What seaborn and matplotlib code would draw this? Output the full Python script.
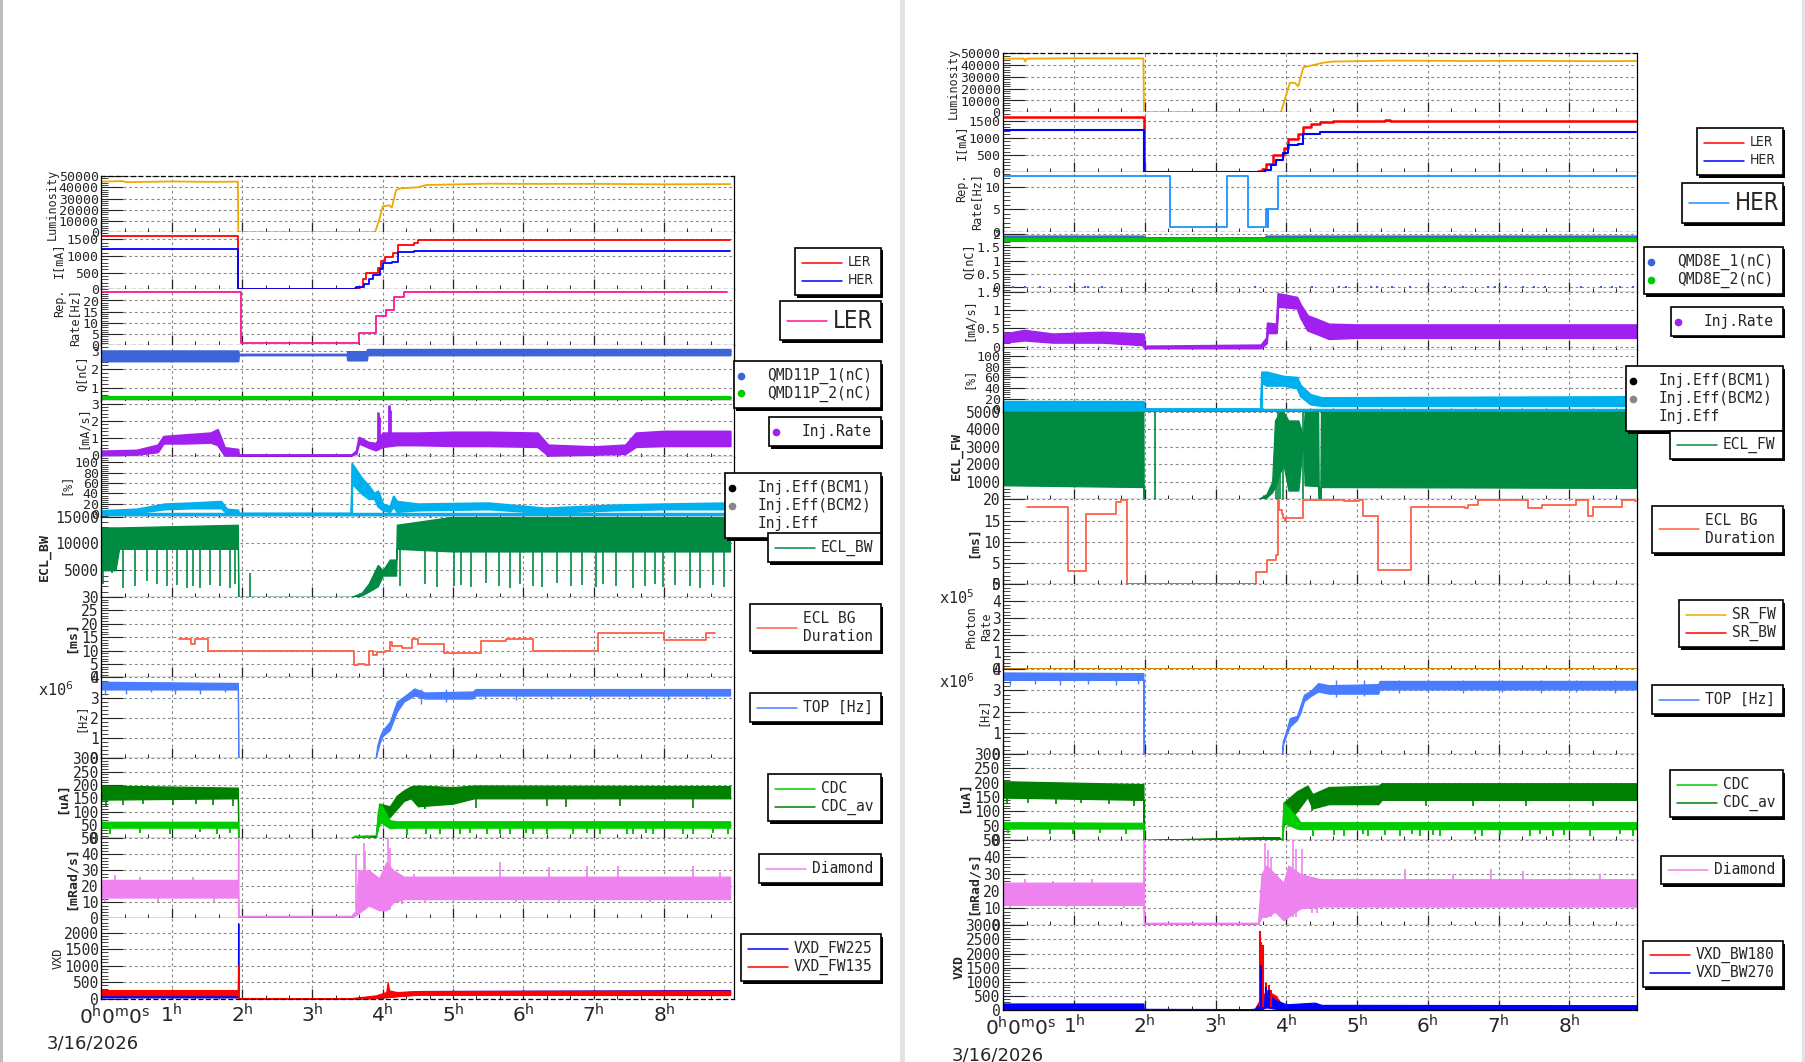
import matplotlib
matplotlib.use("Agg")
import matplotlib.pyplot as plt
from matplotlib.lines import Line2D
from matplotlib.patches import Rectangle
from matplotlib.ticker import AutoMinorLocator, MultipleLocator, FuncFormatter
import seaborn as sns

sns.set_theme(style="white")
MONO = "DejaVu Sans Mono"
SANS = "DejaVu Sans"
plt.rcParams["font.family"] = [MONO, SANS]
plt.rcParams["mathtext.fontset"] = "dejavusans"

W, H = 1806, 1062

# colours
ORANGE = "#eeaa00"
RED = "#ff0000"
BLUE = "#0000ff"
PINK = "#ff1493"
DODGER = "#1e90ff"
QBLUE = "#3d63d6"
QGREEN = "#00cc00"
PURPLE = "#a020f0"
CYAN = "#00b0ee"
ECLG = "#008a42"
TOMATO = "#ff5f45"
TOPB = "#4a7cff"
CDCAV = "#008000"
CDCG = "#00cc00"
VIOLET = "#ee82ee"

# ---------------- left canvas data (LER) ----------------
L_lumi_t = [0, 0.3, 0.35, 1.0, 1.5, 1.94, 1.945, 3.89, 3.95, 4.0, 4.09, 4.13, 4.19, 4.25, 4.5, 4.62, 5.0, 5.5, 6.0, 7.0, 8.0, 8.94]
L_lumi = [45000, 45500, 44500, 45200, 44800, 45000, 0, 0, 11000, 23000, 24000, 22000, 37500, 39000, 40000, 42000, 42500, 43200, 43000, 43000, 42600, 42800]

L_ler_t = [0, 1.945, 3.60, 3.67, 3.72, 3.76, 3.93, 3.98, 4.03, 4.15, 4.22, 4.45, 4.50, 8.94]
L_ler = [1590, 0, 40, 80, 300, 500, 650, 850, 980, 1100, 1330, 1400, 1478, 1478]
L_her_t = [0, 1.945, 3.62, 3.74, 3.80, 3.86, 3.96, 4.0, 4.13, 4.22, 4.45, 8.94]
L_her = [1200, 0, 60, 160, 300, 430, 600, 780, 830, 1120, 1150, 1150]

L_rep_t = [0, 1.98, 3.66, 3.91, 4.05, 4.16, 4.30, 8.89]
L_rep = [23.6, 1.2, 5.3, 13.1, 15.6, 21.4, 23.6, 23.6]

L_q1_t = [0, 1.94, 1.95, 3.49, 3.50, 3.77, 3.78, 8.94]
L_q1_lo = [2.45, 2.45, 2.78, 2.78, 2.5, 2.5, 2.78, 2.78]
L_q1_hi = [3.0, 3.0, 2.82, 2.82, 2.96, 2.96, 3.08, 3.08]
L_q2_t = [0, 8.94]
L_q2 = [0.44, 0.44]

L_inj_t = [0, 0.5, 0.8, 0.88, 1.2, 1.55, 1.65, 1.75, 1.94, 1.95, 3.55, 3.62, 3.66, 3.80, 3.90, 4.0, 4.2, 4.5, 5.0, 5.5, 6.2, 6.35, 7.0, 7.45, 7.6, 8.0, 8.94]
L_inj_lo = [0.02, 0.05, 0.2, 0.7, 0.7, 0.75, 0.6, 0.0, 0.0, 0.0, 0.0, 0.1, 0.7, 0.45, 0.3, 0.5, 0.6, 0.6, 0.55, 0.55, 0.5, 0.0, 0.05, 0.1, 0.5, 0.55, 0.55]
L_inj_hi = [0.25, 0.3, 0.6, 1.1, 1.2, 1.3, 1.5, 0.45, 0.35, 0.02, 0.02, 0.25, 1.05, 0.75, 0.7, 1.3, 1.3, 1.3, 1.35, 1.35, 1.3, 0.6, 0.5, 0.6, 1.3, 1.4, 1.4]
L_inj_spk_t = [3.93, 3.95, 4.09, 4.11]
L_inj_spk_lo = [0.8, 1.0, 1.2, 1.3]
L_inj_spk_hi = [2.5, 2.2, 2.9, 2.6]

L_eff_t = [0, 0.5, 0.9, 1.3, 1.7, 1.78, 1.94, 1.95, 3.55, 3.56, 3.70, 3.80, 3.88, 3.93, 4.0, 4.1, 4.15, 4.2, 4.5, 5.5, 6.3, 7.3, 8.0, 8.94]
L_eff_lo = [2, 3, 10, 12, 12, 2, 2, 0, 0, 60, 40, 30, 30, 15, 8, 5, 15, 5, 8, 10, 3, 8, 10, 10]
L_eff_hi = [7, 10, 20, 22, 25, 10, 8, 2, 2, 98, 70, 55, 40, 45, 20, 15, 35, 25, 20, 22, 12, 18, 20, 22]
L_effline_t = [0, 8.94]
L_effline = [0.5, 0.5]

L_ecl_t = [0, 0.2, 0.25, 1.94, 1.945, 3.55, 3.70, 3.80, 3.93, 4.0, 4.1, 4.19, 4.2, 5.0, 8.94]
L_ecl_lo = [5000, 5000, 9000, 9000, 0, 0, 300, 1000, 2000, 4000, 4000, 4000, 9000, 8500, 8500]
L_ecl_hi = [13000, 13000, 13000, 13500, 0, 0, 800, 2500, 6000, 5000, 7000, 7000, 13500, 15000, 15000]
L_ecl_spk_t = [0.02, 0.15, 0.31, 0.48, 0.65, 0.79, 0.93, 1.07, 1.21, 1.30, 1.40, 1.54, 1.68, 1.83, 1.90, 2.11,
               4.24, 4.60, 4.77, 5.02, 5.12, 5.26, 5.47, 5.66, 5.81, 5.95, 6.14, 6.26, 6.48, 6.68, 6.83,
               7.04, 7.13, 7.32, 7.56, 7.73, 7.87, 7.99, 8.15, 8.37, 8.51, 8.70, 8.86]
L_ecl_spk = [2500, 4400, 1700, 2000, 2900, 2500, 2000, 2300, 1700, 2000, 1700, 2300, 2000, 1700, 2500, 0,
             2000, 2500, 1800, 2000, 2300, 1900, 2600, 2000, 1700, 2400, 2000, 1800, 2700, 2000, 2300,
             1900, 2400, 2000, 1700, 2100, 2500, 1800, 2200, 2000, 1700, 2300, 1800]
L_ecl_spk_top = [9000, 9000, 9000, 9000, 9000, 9000, 9000, 9000, 9000, 9000, 9000, 9000, 9000, 9000, 9000, 4400,
                 9000, 9000, 9000, 9000, 9000, 9000, 9000, 9000, 9000, 9000, 9000, 9000, 9000, 9000, 9000,
                 9000, 9000, 9000, 9000, 9000, 9000, 9000, 9000, 9000, 9000, 9000, 9000]

L_ms_t = [1.10, 1.28, 1.33, 1.51, 3.59, 3.65, 3.75, 3.81, 3.86, 3.92, 4.03, 4.10, 4.13, 4.27, 4.41, 4.50, 4.87, 5.40, 5.76, 6.13, 7.06, 8.0, 8.60, 8.73]
L_ms = [14.3, 12.3, 14.3, 10.0, 4.6, 5.0, 4.5, 9.9, 8.4, 9.5, 9.9, 13.1, 11.7, 10.9, 14.2, 12.4, 9.0, 13.6, 14.2, 9.9, 16.4, 13.8, 16.4, 16.4]

L_top_t = [0, 1.94, 1.945, 3.90, 3.92, 3.96, 4.0, 4.1, 4.2, 4.3, 4.45, 4.6, 5.28, 5.32, 8.94]
L_top_lo = [3.4, 3.4, 0, 0, 0.3, 0.8, 1.1, 1.4, 2.3, 2.8, 3.1, 2.95, 2.95, 3.1, 3.1]
L_top_hi = [3.78, 3.72, 0, 0, 0.6, 1.1, 1.4, 1.8, 2.8, 3.05, 3.45, 3.25, 3.3, 3.42, 3.42]
L_top_spk_t = [0.05, 0.35, 0.7, 1.05, 1.4, 1.75, 4.55, 4.9, 5.45, 5.9, 6.4, 6.95, 7.5, 8.05, 8.6]
L_top_spk = [3.15, 3.2, 3.25, 3.2, 3.2, 3.25, 2.7, 2.8, 2.95, 2.9, 2.95, 2.9, 2.95, 2.9, 2.95]

L_cdcav_t = [0, 1.94, 1.945, 3.55, 3.77, 3.90, 3.95, 4.1, 4.2, 4.3, 4.4, 4.5, 5.0, 5.3, 8.94]
L_cdcav_lo = [145, 150, 0, 0, 3, 3, 60, 80, 110, 140, 150, 120, 130, 150, 150]
L_cdcav_hi = [198, 190, 0, 0, 10, 10, 130, 120, 160, 180, 195, 198, 192, 198, 196]
L_cdcav_spk_t = [0.07, 0.31, 0.59, 1.02, 1.35, 1.59, 1.87, 4.6, 5.33, 6.33, 6.61, 7.37, 8.41]
L_cdcav_spk = [120, 125, 130, 125, 130, 125, 120, 110, 115, 120, 118, 120, 115]
L_cdc_t = [0, 1.94, 1.945, 3.55, 3.60, 3.77, 3.90, 3.93, 3.97, 4.1, 4.2, 8.94]
L_cdc_lo = [40, 40, 0, 0, 3, 3, 0, 40, 60, 38, 40, 40]
L_cdc_hi = [62, 62, 0, 0, 10, 10, 0, 100, 130, 68, 64, 64]
L_cdc_spk_t = [0.12, 0.55, 0.97, 1.40, 1.64, 1.83, 4.34, 4.62, 4.81, 5.10, 5.24, 5.48, 5.67, 5.81, 6.04, 6.14, 6.33,
               6.71, 6.90, 7.09, 7.47, 7.56, 7.75, 7.85, 8.27, 8.41, 8.70, 8.91]
L_cdc_spk = [15, 20, 18, 22, 15, 20, 12, 15, 18, 15, 20, 15, 18, 15, 20, 15, 18,
             15, 20, 15, 18, 15, 20, 15, 18, 15, 20, 15]

L_dia_t = [0, 1.94, 1.945, 1.95, 3.55, 3.62, 3.65, 3.80, 3.95, 4.05, 4.15, 4.3, 5.0, 8.94]
L_dia_lo = [13, 13, 0, 0.5, 0.5, 2, 3, 8, 5, 5, 10, 12, 12, 12]
L_dia_hi = [24, 24, 50, 1.5, 1.5, 5, 30, 30, 25, 35, 30, 26, 26, 26]
L_dia_spk_t = [3.62, 3.73, 3.75, 4.08, 4.11]
L_dia_spk_hi = [40, 47, 42, 50, 44]
L_dia_up_t = [0.19, 0.55, 1.3, 4.45, 5.67, 6.37, 6.90, 7.35, 8.41, 8.8]
L_dia_up = [27, 26, 26, 28, 35, 32, 33, 33, 33, 29]
L_dia_dn_t = [0.05, 0.8, 1.6, 4.28, 4.6, 5.9, 6.5, 7.8]
L_dia_dn = [10, 10.5, 10, 9, 9.5, 10, 10.5, 10]

L_vxdb_t = [0, 1.94, 1.945, 1.95, 3.55, 3.9, 4.1, 4.5, 8.94]
L_vxdb_lo = [40, 40, 0, 0, 0, 20, 60, 130, 140]
L_vxdb_hi = [150, 150, 2280, 20, 15, 60, 160, 230, 260]
L_vxdr_t = [0, 1.94, 1.945, 1.95, 3.55, 3.9, 4.05, 4.07, 4.09, 4.2, 4.5, 8.94]
L_vxdr_lo = [110, 110, 0, 0, 0, 20, 50, 50, 50, 80, 120, 110]
L_vxdr_hi = [260, 260, 1000, 10, 15, 100, 200, 500, 250, 200, 230, 240]

# ---------------- right canvas data (HER) ----------------
R_lumi_t = [0, 0.29, 0.31, 0.33, 1.0, 1.98, 1.99, 3.925, 4.0, 4.05, 4.12, 4.17, 4.24, 4.38, 4.52, 4.66, 5.5, 6.5, 7.5, 8.5, 8.95]
R_lumi = [45500, 45500, 43000, 45500, 45800, 45600, 0, 0, 15000, 25000, 25000, 22000, 38000, 40000, 42000, 43000, 43800, 43500, 43600, 43300, 43500]

R_ler_t = [0, 1.985, 3.60, 3.66, 3.72, 3.81, 3.97, 4.02, 4.16, 4.24, 4.35, 4.48, 4.66, 5.40, 5.46, 8.95]
R_ler = [1610, 0, 30, 100, 250, 495, 700, 980, 1100, 1320, 1400, 1466, 1500, 1520, 1480, 1480]
R_her_t = [0, 1.985, 3.70, 3.78, 3.86, 3.96, 4.02, 4.16, 4.24, 4.48, 8.95]
R_her = [1215, 0, 60, 200, 350, 560, 800, 830, 1100, 1180, 1180]

R_rep_t = [0, 2.356, 3.166, 3.463, 3.709, 3.737, 3.746, 3.878, 8.95]
R_rep = [12.46, 0.97, 12.46, 0.97, 5.0, 0.97, 5.0, 12.46, 12.46]

R_q1_t = [0, 1.98, 1.99, 3.70, 3.71, 8.95]
R_q1_lo = [1.80, 1.80, 1.84, 1.84, 1.80, 1.80]
R_q1_hi = [1.93, 1.93, 1.87, 1.87, 1.93, 1.93]
R_q2_t = [0, 8.95]
R_q2 = [1.775, 1.775]
R_qdot_t = [0.14, 0.31, 0.52, 0.94, 1.155, 1.2, 1.39, 3.56, 4.37, 4.74, 4.85, 5.2, 5.28, 5.49, 5.75,
            6.0, 6.24, 6.5, 6.85, 6.95, 7.11, 7.35, 7.5, 7.65, 8.17, 8.45, 8.6, 8.72, 8.9]
R_qdot = [0.0, 0.01, 0.0, 0.0, 0.01, 0.0, 0.0, 0.01, 0.0, 0.0, 0.01, 0.0, 0.0, 0.01, 0.0,
          0.0, 0.01, 0.0, 0.0, 0.01, 0.0, 0.0, 0.01, 0.0, 0.0, 0.01, 0.0, 0.0, 0.01]

R_inj_t = [0, 0.3, 0.7, 1.4, 1.98, 1.99, 3.64, 3.72, 3.73, 3.86, 3.88, 4.15, 4.2, 4.3, 4.5, 4.6, 5.0, 8.95]
R_inj_lo = [0.12, 0.18, 0.12, 0.12, 0.05, -0.03, -0.03, 0.1, 0.38, 0.38, 1.1, 1.05, 0.8, 0.45, 0.3, 0.22, 0.25, 0.25]
R_inj_hi = [0.35, 0.45, 0.35, 0.4, 0.35, 0.02, 0.05, 0.25, 0.65, 0.62, 1.45, 1.35, 1.15, 0.85, 0.7, 0.62, 0.6, 0.6]

R_eff_t = [0, 1.98, 1.99, 3.64, 3.65, 3.72, 3.96, 4.15, 4.2, 4.34, 4.5, 8.95]
R_eff_lo = [3, 3, 0, 0, 50, 45, 45, 40, 25, 10, 7, 7]
R_eff_hi = [15, 15, 1, 1, 70, 70, 62, 60, 45, 28, 22, 24]
R_effline_t = [0, 8.95]
R_effline = [-1, -1]

R_ecl_t = [0, 1.98, 1.985, 3.60, 3.72, 3.80, 3.84, 3.91, 3.96, 4.03, 4.17, 4.24, 4.26, 4.45, 4.46, 4.48, 4.49, 8.95]
R_ecl_lo = [800, 700, 0, 0, 100, 400, 700, 1500, 2000, 500, 500, 3400, 800, 750, 0, 0, 700, 650]
R_ecl_hi = [5000, 5000, 0, 0, 300, 1000, 4500, 5000, 5000, 4500, 4500, 3600, 5000, 5000, 0, 0, 5000, 5000]
R_ecl_vl_t = [2.144, 3.85, 3.88, 3.91, 3.96, 4.24]
R_ecl_vl_hi = [5000, 4000, 5000, 5000, 5000, 5000]

R_ms_t = [0.34, 0.92, 1.169, 1.60, 1.66, 1.744, 3.567, 3.722, 3.85, 3.878, 3.90, 3.934, 3.958, 3.98, 4.0, 4.24, 4.81, 5.03,
          5.08, 5.29, 5.76, 6.52, 6.57, 6.71, 7.42, 7.62, 8.10, 8.27, 8.33, 8.75, 8.93, 8.95]
R_ms = [18.1, 3.06, 16.46, 19.3, 19.9, 0, 3.0, 5.64, 6.9, 19.9, 17.5, 16.5, 15.5, 14.9, 15.6, 19.9, 19.6, 19.9,
        16.07, 3.36, 18.1, 17.9, 18.6, 19.9, 17.9, 18.6, 19.9, 16.07, 18.1, 19.9, 19.6, 19.6]

R_srfw_t = [0, 8.95]
R_srfw = [0.02, 0.02]
R_srbw_t = [0, 8.95]
R_srbw = [0.0, 0.0]

R_top_t = [0, 1.98, 1.985, 3.94, 3.95, 4.0, 4.05, 4.15, 4.2, 4.25, 4.35, 4.45, 4.6, 5.3, 5.32, 8.95]
R_top_lo = [3.5, 3.5, 0, 0, 0.4, 0.9, 1.3, 1.6, 1.95, 2.5, 2.75, 2.95, 2.85, 2.85, 3.05, 3.05]
R_top_hi = [3.85, 3.82, 0, 0, 0.6, 1.1, 1.7, 1.8, 2.3, 2.8, 3.0, 3.35, 3.25, 3.3, 3.45, 3.45]
R_top_spk_t = [0.1, 0.45, 0.8, 1.2, 1.6, 1.9, 4.7, 5.1, 5.6, 6.0, 6.5, 7.05, 7.6, 8.1, 8.65]
R_top_spk = [3.25, 3.3, 3.25, 3.3, 3.25, 3.3, 2.7, 2.75, 2.9, 2.95, 2.9, 2.95, 2.9, 2.95, 2.9]

R_cdcav_t = [0, 1.98, 1.985, 3.60, 3.90, 3.94, 3.96, 4.15, 4.3, 4.37, 4.6, 5.3, 5.35, 8.95]
R_cdcav_lo = [148, 140, 0, 3, 3, 0, 50, 100, 150, 110, 125, 125, 140, 140]
R_cdcav_hi = [205, 195, 0, 10, 10, 0, 130, 170, 190, 160, 185, 190, 198, 198]
R_cdcav_spk_t = [0.05, 0.35, 0.75, 1.1, 1.5, 1.85, 4.36, 5.98, 6.64, 7.39, 8.34]
R_cdcav_spk = [125, 130, 125, 128, 125, 120, 100, 120, 118, 120, 120]
R_cdc_t = [0, 1.98, 1.985, 3.94, 3.96, 4.15, 4.2, 8.95]
R_cdc_lo = [40, 40, 0, 0, 60, 40, 38, 38]
R_cdc_hi = [62, 60, 0, 0, 130, 80, 62, 62]
R_cdc_spk_t = [0.07, 0.66, 0.99, 1.37, 1.74, 4.38, 4.67, 4.81, 5.09, 5.16, 5.40, 5.61, 5.77, 5.89, 6.08, 6.17,
               6.67, 6.76, 7.02, 7.44, 7.59, 7.77, 7.92, 8.29, 8.72, 8.90]
R_cdc_spk = [25, 22, 20, 25, 22, 15, 18, 15, 20, 15, 18, 15, 20, 15, 18, 15,
             20, 15, 18, 15, 20, 15, 18, 15, 20, 15]

R_dia_t = [0, 1.98, 1.985, 1.99, 3.60, 3.65, 3.72, 3.84, 3.96, 4.03, 4.2, 4.48, 8.95]
R_dia_lo = [12, 12, 0, 0.5, 0.5, 5, 5, 8, 3, 5, 10, 11, 11]
R_dia_hi = [25, 25, 50, 1.5, 1.5, 30, 35, 30, 25, 35, 30, 27, 27]
R_dia_spk_t = [3.70, 3.74, 3.78, 4.10, 4.14]
R_dia_spk_hi = [48, 44, 40, 50, 45]
R_dia_up_t = [0.3, 0.7, 1.25, 4.22, 5.68, 6.36, 6.90, 7.35, 8.43]
R_dia_up = [27, 26, 27, 45, 33, 30, 33, 32, 30]
R_dia_dn_t = [0.1, 0.9, 1.7, 4.36, 4.43, 5.3, 6.2, 7.5]
R_dia_dn = [10, 10.5, 10, 7, 7, 9.5, 10, 10]

R_vxdr_t = [0, 1.98, 1.985, 3.55, 3.60, 3.72, 3.85, 3.95, 8.95]
R_vxdr_lo = [0, 0, 0, 0, 0, 100, 50, 20, 0]
R_vxdr_hi = [30, 30, 10, 20, 250, 700, 500, 150, 60]
R_vxdr_spk_t = [3.635, 3.645, 3.67, 3.72, 3.75, 3.78]
R_vxdr_spk_hi = [2800, 2400, 2300, 950, 900, 700]
R_vxdb_t = [0, 1.98, 1.985, 3.49, 3.56, 3.65, 3.72, 3.85, 4.0, 4.4, 4.5, 8.95]
R_vxdb_lo = [0, 0, 0, 0, 0, 50, 100, 50, 0, 0, 0, 0]
R_vxdb_hi = [230, 230, 40, 30, 50, 300, 600, 350, 200, 260, 180, 170]
R_vxdb_spk_t = [3.645, 3.72, 3.76]
R_vxdb_spk_hi = [1600, 830, 700]

HOURS = [0, 1, 2, 3, 4, 5, 6, 7, 8]
HOUR_LABELS = ["", r"$1^{\mathrm{h}}$", r"$2^{\mathrm{h}}$", r"$3^{\mathrm{h}}$", r"$4^{\mathrm{h}}$",
               r"$5^{\mathrm{h}}$", r"$6^{\mathrm{h}}$", r"$7^{\mathrm{h}}$", r"$8^{\mathrm{h}}$"]

# ---------------- layout (pixels) ----------------
L_X0, L_X1, L_XMAX = 101.5, 734.3, 9.0
L_ROWS = [176, 232.3, 289.3, 345.3, 401.3, 457.3, 516.7, 597, 677.3, 758.3, 838.3, 918.3, 998.7]
R_X0, R_X1, R_XMAX = 1003.3, 1636.7, 8.953
R_ROWS = [53.3, 112.3, 172.3, 231.7, 291.7, 350, 411.7, 499.3, 584.3, 669.3, 754, 840, 925.3, 1010]

L_SPECS = [
    ((0, 50000), list(range(0, 50001, 10000)), True),
    ((0, 1710), [0, 500, 1000, 1500], True),
    ((0, 25), [0, 5, 10, 15, 20], True),
    ((0.25, 3.3), [1, 2, 3], False),
    ((-0.12, 3.13), [0, 1, 2, 3], False),
    ((-5, 110), [0, 20, 40, 60, 80, 100], False),
    ((0, 15000), [5000, 10000, 15000], False),
    ((0, 30), list(range(0, 31, 5)), False),
    ((0, 4), [0, 1, 2, 3, 4], False),
    ((0, 300), list(range(0, 301, 50)), False),
    ((0, 50), list(range(0, 51, 10)), False),
    ((0, 2430), list(range(0, 2001, 500)), True),
]
R_SPECS = [
    ((0, 50000), list(range(0, 50001, 10000)), True),
    ((0, 1740), [0, 500, 1000, 1500], False),
    ((0, 13.3), [0, 5, 10], True),
    ((-0.16, 2.09), [0, 0.5, 1, 1.5, 2], False),
    ((-0.09, 1.5), [0, 0.5, 1, 1.5], False),
    ((-4.4, 111), [0, 20, 40, 60, 80, 100], False),
    ((0, 5000), [1000, 2000, 3000, 4000, 5000], False),
    ((0, 20), [0, 5, 10, 15, 20], False),
    ((0, 5), [0, 1, 2, 3, 4, 5], False),
    ((0, 4), [0, 1, 2, 3, 4], False),
    ((0, 300), list(range(0, 301, 50)), False),
    ((0, 50), list(range(0, 51, 10)), True),
    ((0, 3000), list(range(0, 3001, 500)), False),
]

fig = plt.figure(figsize=(W / 100, H / 100), dpi=100)
fig.patch.set_facecolor("white")


def px_axes(x0, x1, y0, y1):
    return fig.add_axes([x0 / W, 1 - y1 / H, (x1 - x0) / W, (y1 - y0) / H])


def ftext(x, y, s, **kw):
    return fig.text(x / W, 1 - y / H, s, **kw)


def line(ax, t, v, color, lw=1.2, steps=False):
    sns.lineplot(x=t, y=v, ax=ax, color=color, lw=lw, estimator=None, sort=False,
                 legend=False, drawstyle="steps-post" if steps else "default")


def band(ax, t, lo, hi, color, lw=0.9):
    ax.fill_between(t, lo, hi, facecolor=color, edgecolor=color, lw=lw)


def setup(ax, spec, xmax, first, last):
    ylim, yticks, dashed_bottom = spec
    ax.set_xlim(0, xmax)
    ax.set_ylim(*ylim)
    ax.set_yticks(yticks)
    ax.yaxis.set_major_formatter(FuncFormatter(lambda v, p: f"{v:g}"))
    ax.yaxis.set_minor_locator(AutoMinorLocator(5))
    ax.set_xticks(HOURS)
    ax.xaxis.set_minor_locator(MultipleLocator(1 / 3))
    ax.grid(True, which="major", color="#8a8a8a", ls=(0, (2.5, 2.5)), lw=0.8)
    ax.set_axisbelow(True)
    h = ax.get_position().height * H
    fs = 9.5 if h < 70 else 10.5
    ax.tick_params(axis="y", which="major", direction="in", length=16, width=0.8,
                   labelsize=fs, pad=2, left=True, right=False)
    ax.tick_params(axis="y", which="minor", direction="in", length=5, width=0.6, left=True, right=False)
    ax.tick_params(axis="x", which="major", direction="in", length=7.5, width=0.9, bottom=True, top=False)
    ax.tick_params(axis="x", which="minor", direction="in", length=3, width=0.7, bottom=True, top=False)
    for lab in ax.get_yticklabels():
        lab.set_fontfamily(MONO)
    for side in ("left", "right", "bottom", "top"):
        ax.spines[side].set_color("black")
        ax.spines[side].set_linewidth(0.9)
    ax.spines["top"].set_visible(first)
    if first:
        ax.spines["top"].set_linestyle((0, (3, 3)))
    if dashed_bottom:
        ax.spines["bottom"].set_linestyle((0, (3, 3)))
    ax.set_xlabel("")
    ax.set_ylabel("")
    if last:
        ax.set_xticklabels(HOUR_LABELS, fontsize=14.5, fontfamily=SANS)
        ax.tick_params(axis="x", which="major", pad=3)
    else:
        ax.tick_params(axis="x", labelbottom=False)
    ax.set_facecolor("white")


zc = [10]


def legend(x0, y0, x1, y1, entries, fs=10.5, family=MONO, stretch="normal"):
    zc[0] += 1
    z = zc[0]
    fig.patches.append(Rectangle(((x0 + 2.5) / W, 1 - (y1 + 2.5) / H), (x1 - x0) / W, (y1 - y0) / H,
                                 transform=fig.transFigure, fc="black", ec="none", zorder=z))
    fig.patches.append(Rectangle((x0 / W, 1 - y1 / H), (x1 - x0) / W, (y1 - y0) / H,
                                 transform=fig.transFigure, fc="white", ec="black", lw=1.2, zorder=z + 0.1))
    n = len(entries)
    yc = (y0 + y1) / 2
    for i, (kind, color, label) in enumerate(entries):
        y = yc + (i - (n - 1) / 2) * 18
        if kind == "line":
            fig.add_artist(Line2D([(x0 + 7) / W, (x0 + 47) / W], [1 - y / H, 1 - y / H],
                                  transform=fig.transFigure, color=color, lw=1.1, zorder=z + 0.2))
            tx = x0 + 53
        else:
            if kind == "dot":
                fig.add_artist(Line2D([(x0 + 7) / W], [1 - y / H], transform=fig.transFigure,
                                      marker="o", ms=4.5, color=color, ls="none", zorder=z + 0.2))
            tx = x0 + 33
        ftext(tx, y, label, fontsize=fs, family=family, ha="left", va="center",
              linespacing=1.2, fontstretch=stretch, zorder=z + 0.3)


def ylab(x, y, s, bold=False, fs=8.5, ma="center"):
    ftext(x, y, s, rotation=90, ha="center", va="center", fontsize=fs, family=MONO,
          fontweight="bold" if bold else "normal", multialignment=ma)


# ---------------- left canvas ----------------
axL = [px_axes(L_X0, L_X1, L_ROWS[i], L_ROWS[i + 1]) for i in range(12)]

line(axL[0], L_lumi_t, L_lumi, ORANGE, lw=1.3)
line(axL[1], L_ler_t, L_ler, RED, lw=1.3, steps=True)
line(axL[1], L_her_t, L_her, BLUE, lw=1.3, steps=True)
line(axL[2], L_rep_t, L_rep, PINK, lw=1.3, steps=True)
line(axL[3], L_q2_t, L_q2, QGREEN, lw=3)
band(axL[3], L_q1_t, L_q1_lo, L_q1_hi, QBLUE, lw=1.5)
band(axL[4], L_inj_t, L_inj_lo, L_inj_hi, PURPLE, lw=1.5)
axL[4].vlines(L_inj_spk_t, L_inj_spk_lo, L_inj_spk_hi, color=PURPLE, lw=2)
line(axL[5], L_effline_t, L_effline, CYAN, lw=2.5)
band(axL[5], L_eff_t, L_eff_lo, L_eff_hi, CYAN, lw=1.5)
band(axL[6], L_ecl_t, L_ecl_lo, L_ecl_hi, ECLG)
axL[6].vlines(L_ecl_spk_t, L_ecl_spk, L_ecl_spk_top, color=ECLG, lw=1.2)
line(axL[7], L_ms_t, L_ms, TOMATO, lw=1.3, steps=True)
band(axL[8], L_top_t, L_top_lo, L_top_hi, TOPB)
axL[8].vlines(L_top_spk_t, L_top_spk, 3.4, color=TOPB, lw=1)
band(axL[9], L_cdcav_t, L_cdcav_lo, L_cdcav_hi, CDCAV)
axL[9].vlines(L_cdcav_spk_t, L_cdcav_spk, 160, color=CDCAV, lw=1.2)
band(axL[9], L_cdc_t, L_cdc_lo, L_cdc_hi, CDCG)
axL[9].vlines(L_cdc_spk_t, L_cdc_spk, 45, color=CDCG, lw=1.5)
band(axL[10], L_dia_t, L_dia_lo, L_dia_hi, VIOLET)
axL[10].vlines(L_dia_spk_t, 5, L_dia_spk_hi, color=VIOLET, lw=1.2)
axL[10].vlines(L_dia_up_t, 20, L_dia_up, color=VIOLET, lw=1.2)
axL[10].vlines(L_dia_dn_t, L_dia_dn, 18, color=VIOLET, lw=1.2)
band(axL[11], L_vxdb_t, L_vxdb_lo, L_vxdb_hi, BLUE)
band(axL[11], L_vxdr_t, L_vxdr_lo, L_vxdr_hi, RED)

for i, ax in enumerate(axL):
    setup(ax, L_SPECS[i], L_XMAX, i == 0, i == 11)

ylab(52, 204, "Luminosity")
ylab(58, 260, "I[mA]")
ylab(67, 317, "Rep.\nRate[Hz]", ma="right")
ylab(82, 373, "Q[nC]")
ylab(83, 428, "[mA/s]")
ylab(66, 484, "[%]")
ylab(44, 557, "ECL_BW", bold=True, fs=9.5)
ylab(71, 637, "[ms]", bold=True, fs=9.5)
ylab(81, 718, "[Hz]")
ftext(38, 690, r"x10$^{6}$", fontsize=11, family=MONO, ha="left", va="center")
ylab(62, 798, "[uA]", bold=True, fs=9.5)
ylab(71, 878, "[mRad/s]", bold=True, fs=9.5)
ylab(58, 958, "VXD")
ftext(115, 1017, r"$0^{\mathrm{h}}0^{\mathrm{m}}0^{\mathrm{s}}$", fontsize=14.5, family=SANS, ha="center", va="center")
ftext(47, 1035, "3/16/2026", fontsize=13, family=SANS, ha="left", va="top")

legend(795, 248, 881, 295, [("line", RED, "LER"), ("line", BLUE, "HER")], fs=10, family=SANS, stretch="condensed")
legend(780, 301, 881, 340, [("line", PINK, "LER")], fs=17, family=SANS, stretch="condensed")
legend(734, 361, 881, 408, [("dot", QBLUE, "QMD11P_1(nC)"), ("dot", QGREEN, "QMD11P_2(nC)")])
legend(769, 417, 881, 446, [("dot", PURPLE, "Inj.Rate")])
legend(725, 473, 881, 538, [("dot", "black", "Inj.Eff(BCM1)"), ("dot", "#888888", "Inj.Eff(BCM2)"), (None, None, "Inj.Eff")])
legend(768, 533, 881, 562, [("line", ECLG, "ECL_BW")])
legend(750, 604, 881, 651, [("line", TOMATO, "ECL BG\nDuration")])
legend(750, 693, 881, 722, [("line", TOPB, "TOP [Hz]")])
legend(768, 774, 881, 821, [("line", CDCG, "CDC"), ("line", CDCAV, "CDC_av")])
legend(759, 854, 881, 883, [("line", VIOLET, "Diamond")])
legend(741, 934, 881, 981, [("line", BLUE, "VXD_FW225"), ("line", RED, "VXD_FW135")])

# ---------------- right canvas ----------------
axR = [px_axes(R_X0, R_X1, R_ROWS[i], R_ROWS[i + 1]) for i in range(13)]

line(axR[0], R_lumi_t, R_lumi, ORANGE, lw=1.3)
line(axR[1], R_ler_t, R_ler, RED, lw=1.8, steps=True)
line(axR[1], R_her_t, R_her, BLUE, lw=1.5, steps=True)
line(axR[2], R_rep_t, R_rep, DODGER, lw=1.3, steps=True)
line(axR[3], R_q2_t, R_q2, QGREEN, lw=3)
band(axR[3], R_q1_t, R_q1_lo, R_q1_hi, QBLUE, lw=1.5)
sns.scatterplot(x=R_qdot_t, y=R_qdot, ax=axR[3], color=QBLUE, marker="s", s=3, linewidth=0, legend=False)
band(axR[4], R_inj_t, R_inj_lo, R_inj_hi, PURPLE, lw=1.5)
line(axR[5], R_effline_t, R_effline, CYAN, lw=2.5)
band(axR[5], R_eff_t, R_eff_lo, R_eff_hi, CYAN, lw=1.5)
band(axR[6], R_ecl_t, R_ecl_lo, R_ecl_hi, ECLG)
axR[6].vlines(R_ecl_vl_t, 0, R_ecl_vl_hi, color=ECLG, lw=1.2)
line(axR[7], R_ms_t, R_ms, TOMATO, lw=1.3, steps=True)
line(axR[8], R_srbw_t, R_srbw, RED, lw=1.3)
line(axR[8], R_srfw_t, R_srfw, ORANGE, lw=1.3)
band(axR[9], R_top_t, R_top_lo, R_top_hi, TOPB)
axR[9].vlines(R_top_spk_t, R_top_spk, 3.5, color=TOPB, lw=1)
band(axR[10], R_cdcav_t, R_cdcav_lo, R_cdcav_hi, CDCAV)
axR[10].vlines(R_cdcav_spk_t, R_cdcav_spk, 160, color=CDCAV, lw=1.2)
band(axR[10], R_cdc_t, R_cdc_lo, R_cdc_hi, CDCG)
axR[10].vlines(R_cdc_spk_t, R_cdc_spk, 45, color=CDCG, lw=1.5)
band(axR[11], R_dia_t, R_dia_lo, R_dia_hi, VIOLET)
axR[11].vlines(R_dia_spk_t, 5, R_dia_spk_hi, color=VIOLET, lw=1.2)
axR[11].vlines(R_dia_up_t, 20, R_dia_up, color=VIOLET, lw=1.2)
axR[11].vlines(R_dia_dn_t, R_dia_dn, 18, color=VIOLET, lw=1.2)
band(axR[12], R_vxdr_t, R_vxdr_lo, R_vxdr_hi, RED)
axR[12].vlines(R_vxdr_spk_t, 100, R_vxdr_spk_hi, color=RED, lw=1.5)
band(axR[12], R_vxdb_t, R_vxdb_lo, R_vxdb_hi, BLUE)
axR[12].vlines(R_vxdb_spk_t, 100, R_vxdb_spk_hi, color=BLUE, lw=1.5)

for i, ax in enumerate(axR):
    setup(ax, R_SPECS[i], R_XMAX, i == 0, i == 12)

ylab(953, 83, "Luminosity")
ylab(961, 142, "I[mA]")
ylab(969, 202, "Rep.\nRate[Hz]", ma="right")
ylab(969, 261, "Q[nC]")
ylab(969, 320, "[mA/s]")
ylab(969, 378, "[%]")
ylab(956, 456, "ECL_FW", bold=True, fs=9.5)
ylab(973, 542, "[ms]", bold=True, fs=9.5)
ylab(979, 627, "Photon\nRate")
ftext(939, 598, r"x10$^{5}$", fontsize=11, family=MONO, ha="left", va="center")
ylab(983, 712, "[Hz]")
ftext(939, 682, r"x10$^{6}$", fontsize=11, family=MONO, ha="left", va="center")
ylab(964, 797, "[uA]", bold=True, fs=9.5)
ylab(973, 883, "[mRad/s]", bold=True, fs=9.5)
ylab(959, 967, "VXD", bold=True, fs=9.5)
ftext(1021, 1028, r"$0^{\mathrm{h}}0^{\mathrm{m}}0^{\mathrm{s}}$", fontsize=14.5, family=SANS, ha="center", va="center")
ftext(952, 1046, "3/16/2026", fontsize=13, family=SANS, ha="left", va="top")

legend(1697, 128, 1783, 175, [("line", RED, "LER"), ("line", BLUE, "HER")], fs=10, family=SANS, stretch="condensed")
legend(1682, 183, 1783, 223, [("line", DODGER, "HER")], fs=17, family=SANS, stretch="condensed")
legend(1644, 247, 1783, 294, [("dot", QBLUE, "QMD8E_1(nC)"), ("dot", QGREEN, "QMD8E_2(nC)")])
legend(1671, 307, 1783, 336, [("dot", PURPLE, "Inj.Rate")])
legend(1626, 366, 1783, 431, [("dot", "black", "Inj.Eff(BCM1)"), ("dot", "#888888", "Inj.Eff(BCM2)"), (None, None, "Inj.Eff")])
legend(1670, 431, 1783, 459, [("line", ECLG, "ECL_FW")])
legend(1652, 506, 1783, 553, [("line", TOMATO, "ECL BG\nDuration")])
legend(1679, 600, 1783, 647, [("line", ORANGE, "SR_FW"), ("line", RED, "SR_BW")])
legend(1652, 685, 1783, 714, [("line", TOPB, "TOP [Hz]")])
legend(1670, 770, 1783, 817, [("line", CDCG, "CDC"), ("line", CDCAV, "CDC_av")])
legend(1661, 856, 1783, 884, [("line", VIOLET, "Diamond")])
legend(1643, 941, 1783, 987, [("line", RED, "VXD_BW180"), ("line", BLUE, "VXD_BW270")])

# canvas borders
for x0, x1, c in [(0, 2.5, "#bdbdbd"), (900, 905, "#e3e3e3"), (1802, 1806, "#e3e3e3")]:
    fig.patches.append(Rectangle((x0 / W, 0), (x1 - x0) / W, 1, transform=fig.transFigure,
                                 fc=c, ec="none", zorder=0))

fig.savefig("out.png", dpi=100, facecolor="white")
